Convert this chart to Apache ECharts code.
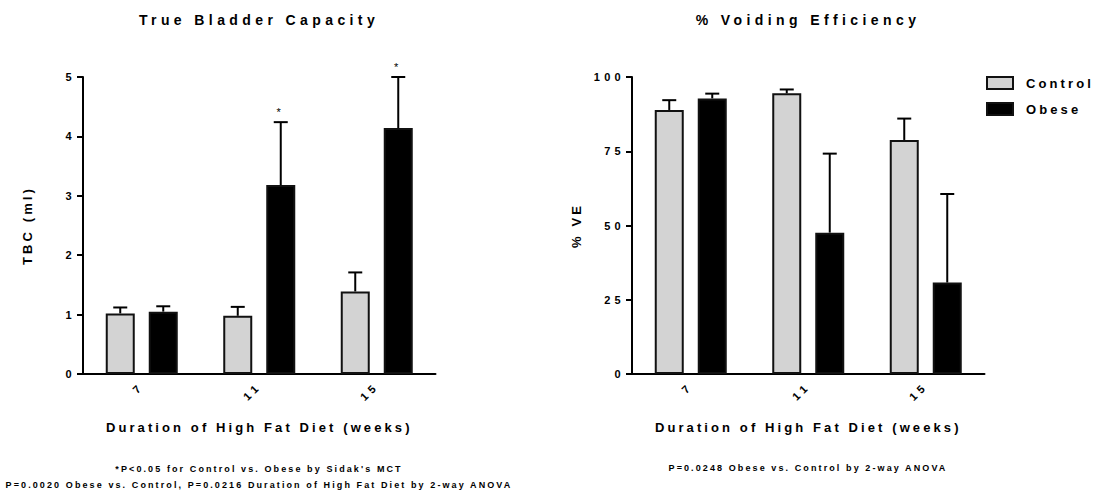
<!DOCTYPE html>
<html><head><meta charset="utf-8">
<script src="https://cdn.jsdelivr.net/npm/echarts@6/dist/echarts.min.js"></script>
<style>html,body{margin:0;padding:0;background:#fff}#c{width:1094px;height:491px}</style>
</head><body><div id="c"></div>
<script>
// ---------- data ----------
const categories = ['7', '11', '15'];
const seriesNames = ['Control', 'Obese'];
const tbcControl = [1.02, 0.98, 1.39];
const tbcControlSem = [0.10, 0.15, 0.32];
const tbcObese = [1.05, 3.18, 4.14];
const tbcObeseSem = [0.09, 1.06, 0.86];
const tbcSignificant = [false, true, true];
const veControl = [88.9, 94.5, 78.8];
const veControlSem = [3.3, 1.3, 7.2];
const veObese = [92.8, 47.6, 30.8];
const veObeseSem = [1.6, 26.6, 29.8];
const tbcAxis = { min: 0, max: 5, interval: 1 };
const veAxis = { min: 0, max: 100, interval: 25 };
const chartTitles = ['True Bladder Capacity', '% Voiding Efficiency'];
const xAxisName = 'Duration of High Fat Diet (weeks)';
const yAxisNames = ['TBC (ml)', '% VE'];
const notesLeft = ["*P<0.05 for Control vs. Obese by Sidak's MCT",
  'P=0.0020 Obese vs. Control, P=0.0216 Duration of High Fat Diet by 2-way ANOVA'];
const notesRight = ['P=0.0248 Obese vs. Control by 2-way ANOVA'];

// ---------- style ----------
const FONT = 'Liberation Sans, Arial, Helvetica, sans-serif';
const GRAY = '#d3d3d3';
const EDGE = '#111';
const BAR_W = 29, GAP = 14, CAP = 14;
const LS = { 9: 2.1, 11: 4.3, 13: 3.1, 14: 4.4 };

const txt = (size) => ({ fontFamily: FONT, fontWeight: 'bold', fontSize: size, color: '#000' });

function errSeries(g, means, sems, side, sig) {
  return {
    type: 'custom', xAxisIndex: g, yAxisIndex: g, z: 5, silent: true, clip: false,
    itemStyle: { color: '#000' },
    data: means.map((m, i) => [i, m, m + sems[i], sig && sig[i] ? 1 : 0]),
    renderItem(params, api) {
      const i = api.value(0);
      const base = api.coord([i, api.value(1)]);
      const top = api.coord([i, api.value(2)]);
      const x = base[0] + side * (BAR_W + GAP) / 2;
      const ch = [
        { type: 'line', shape: { x1: x, y1: base[1], x2: x, y2: top[1] }, style: { stroke: '#000', lineWidth: 2 } },
        { type: 'line', shape: { x1: x - CAP / 2, y1: top[1], x2: x + CAP / 2, y2: top[1] }, style: { stroke: '#000', lineWidth: 2 } }
      ];
      if (api.value(3)) {
        ch.push({ type: 'text', x: x, y: top[1] - 10,
          style: { text: '*', fill: '#000', stroke: null, fontSize: 11, fontFamily: FONT, fontWeight: 'normal', align: 'center', verticalAlign: 'middle' } });
      }
      return { type: 'group', children: ch };
    }
  };
}

function barSeries(g, name, vals, color) {
  return {
    type: 'bar', name: name, xAxisIndex: g, yAxisIndex: g, data: vals,
    barWidth: BAR_W, barGap: (GAP / BAR_W * 100) + '%',
    itemStyle: { color: color, borderColor: EDGE, borderWidth: 2 },
    silent: true
  };
}

function xAx(g) {
  return {
    type: 'category', gridIndex: g, data: categories,
    name: xAxisName, nameLocation: 'middle', nameGap: 47, nameTextStyle: txt(13),
    axisLine: { lineStyle: { color: '#000', width: 2 } },
    axisTick: { alignWithLabel: true, length: 6, lineStyle: { color: '#000', width: 2 } },
    axisLabel: Object.assign(txt(11), { rotate: 45, margin: 10 })
  };
}
function yAx(g, ax, name) {
  return {
    type: 'value', gridIndex: g, min: ax.min, max: ax.max, interval: ax.interval,
    name: name, nameLocation: 'middle', nameGap: 49, nameTextStyle: txt(13),
    axisLine: { show: true, lineStyle: { color: '#000', width: 2 } },
    axisTick: { show: true, length: 6, lineStyle: { color: '#000', width: 2 } },
    axisLabel: Object.assign(txt(11), { margin: 7 }),
    splitLine: { show: false }
  };
}

const option = {
  animation: false,
  backgroundColor: '#fff',
  title: [
    { text: chartTitles[0], left: 259, top: 13, textAlign: 'center', padding: 0, textStyle: txt(14) },
    { text: chartTitles[1], left: 808, top: 13, textAlign: 'center', padding: 0, textStyle: txt(14) },
    { text: notesLeft[0], left: 259, top: 464, textAlign: 'center', padding: 0, textStyle: txt(9) },
    { text: notesLeft[1], left: 259, top: 480, textAlign: 'center', padding: 0, textStyle: txt(9) },
    { text: notesRight[0], left: 808, top: 463, textAlign: 'center', padding: 0, textStyle: txt(9) }
  ],
  legend: {
    orient: 'vertical', left: 986, top: 76, padding: 0,
    itemWidth: 26, itemHeight: 12, itemGap: 12, selectedMode: false,
    textStyle: Object.assign(txt(13), { padding: [0, 0, 0, 8] }),
    data: [
      { name: seriesNames[0], icon: 'rect', itemStyle: { color: GRAY, borderColor: EDGE, borderWidth: 2 } },
      { name: seriesNames[1], icon: 'rect', itemStyle: { color: '#000', borderColor: EDGE, borderWidth: 2 } }
    ]
  },
  grid: [
    { left: 83, right: 658.5, top: 77, bottom: 117 },
    { left: 632, right: 109.5, top: 77, bottom: 117 }
  ],
  xAxis: [xAx(0), xAx(1)],
  yAxis: [yAx(0, tbcAxis, yAxisNames[0]), yAx(1, veAxis, yAxisNames[1])],
  series: [
    barSeries(0, seriesNames[0], tbcControl, GRAY),
    barSeries(0, seriesNames[1], tbcObese, '#000'),
    barSeries(1, seriesNames[0], veControl, GRAY),
    barSeries(1, seriesNames[1], veObese, '#000'),
    errSeries(0, tbcControl, tbcControlSem, -1, null),
    errSeries(0, tbcObese, tbcObeseSem, 1, tbcSignificant),
    errSeries(1, veControl, veControlSem, -1, null),
    errSeries(1, veObese, veObeseSem, 1, null)
  ]
};

const chart = echarts.init(document.getElementById('c'), null, { renderer: 'svg' });
function spaceText() {
  document.querySelectorAll('#c svg text').forEach(t => {
    const fs = Math.round(parseFloat(getComputedStyle(t).fontSize));
    if (LS[fs] != null) t.style.letterSpacing = LS[fs] + 'px';
  });
}
chart.on('finished', spaceText);
chart.setOption(option);
spaceText();
setTimeout(spaceText, 50);
</script>
</body></html>
